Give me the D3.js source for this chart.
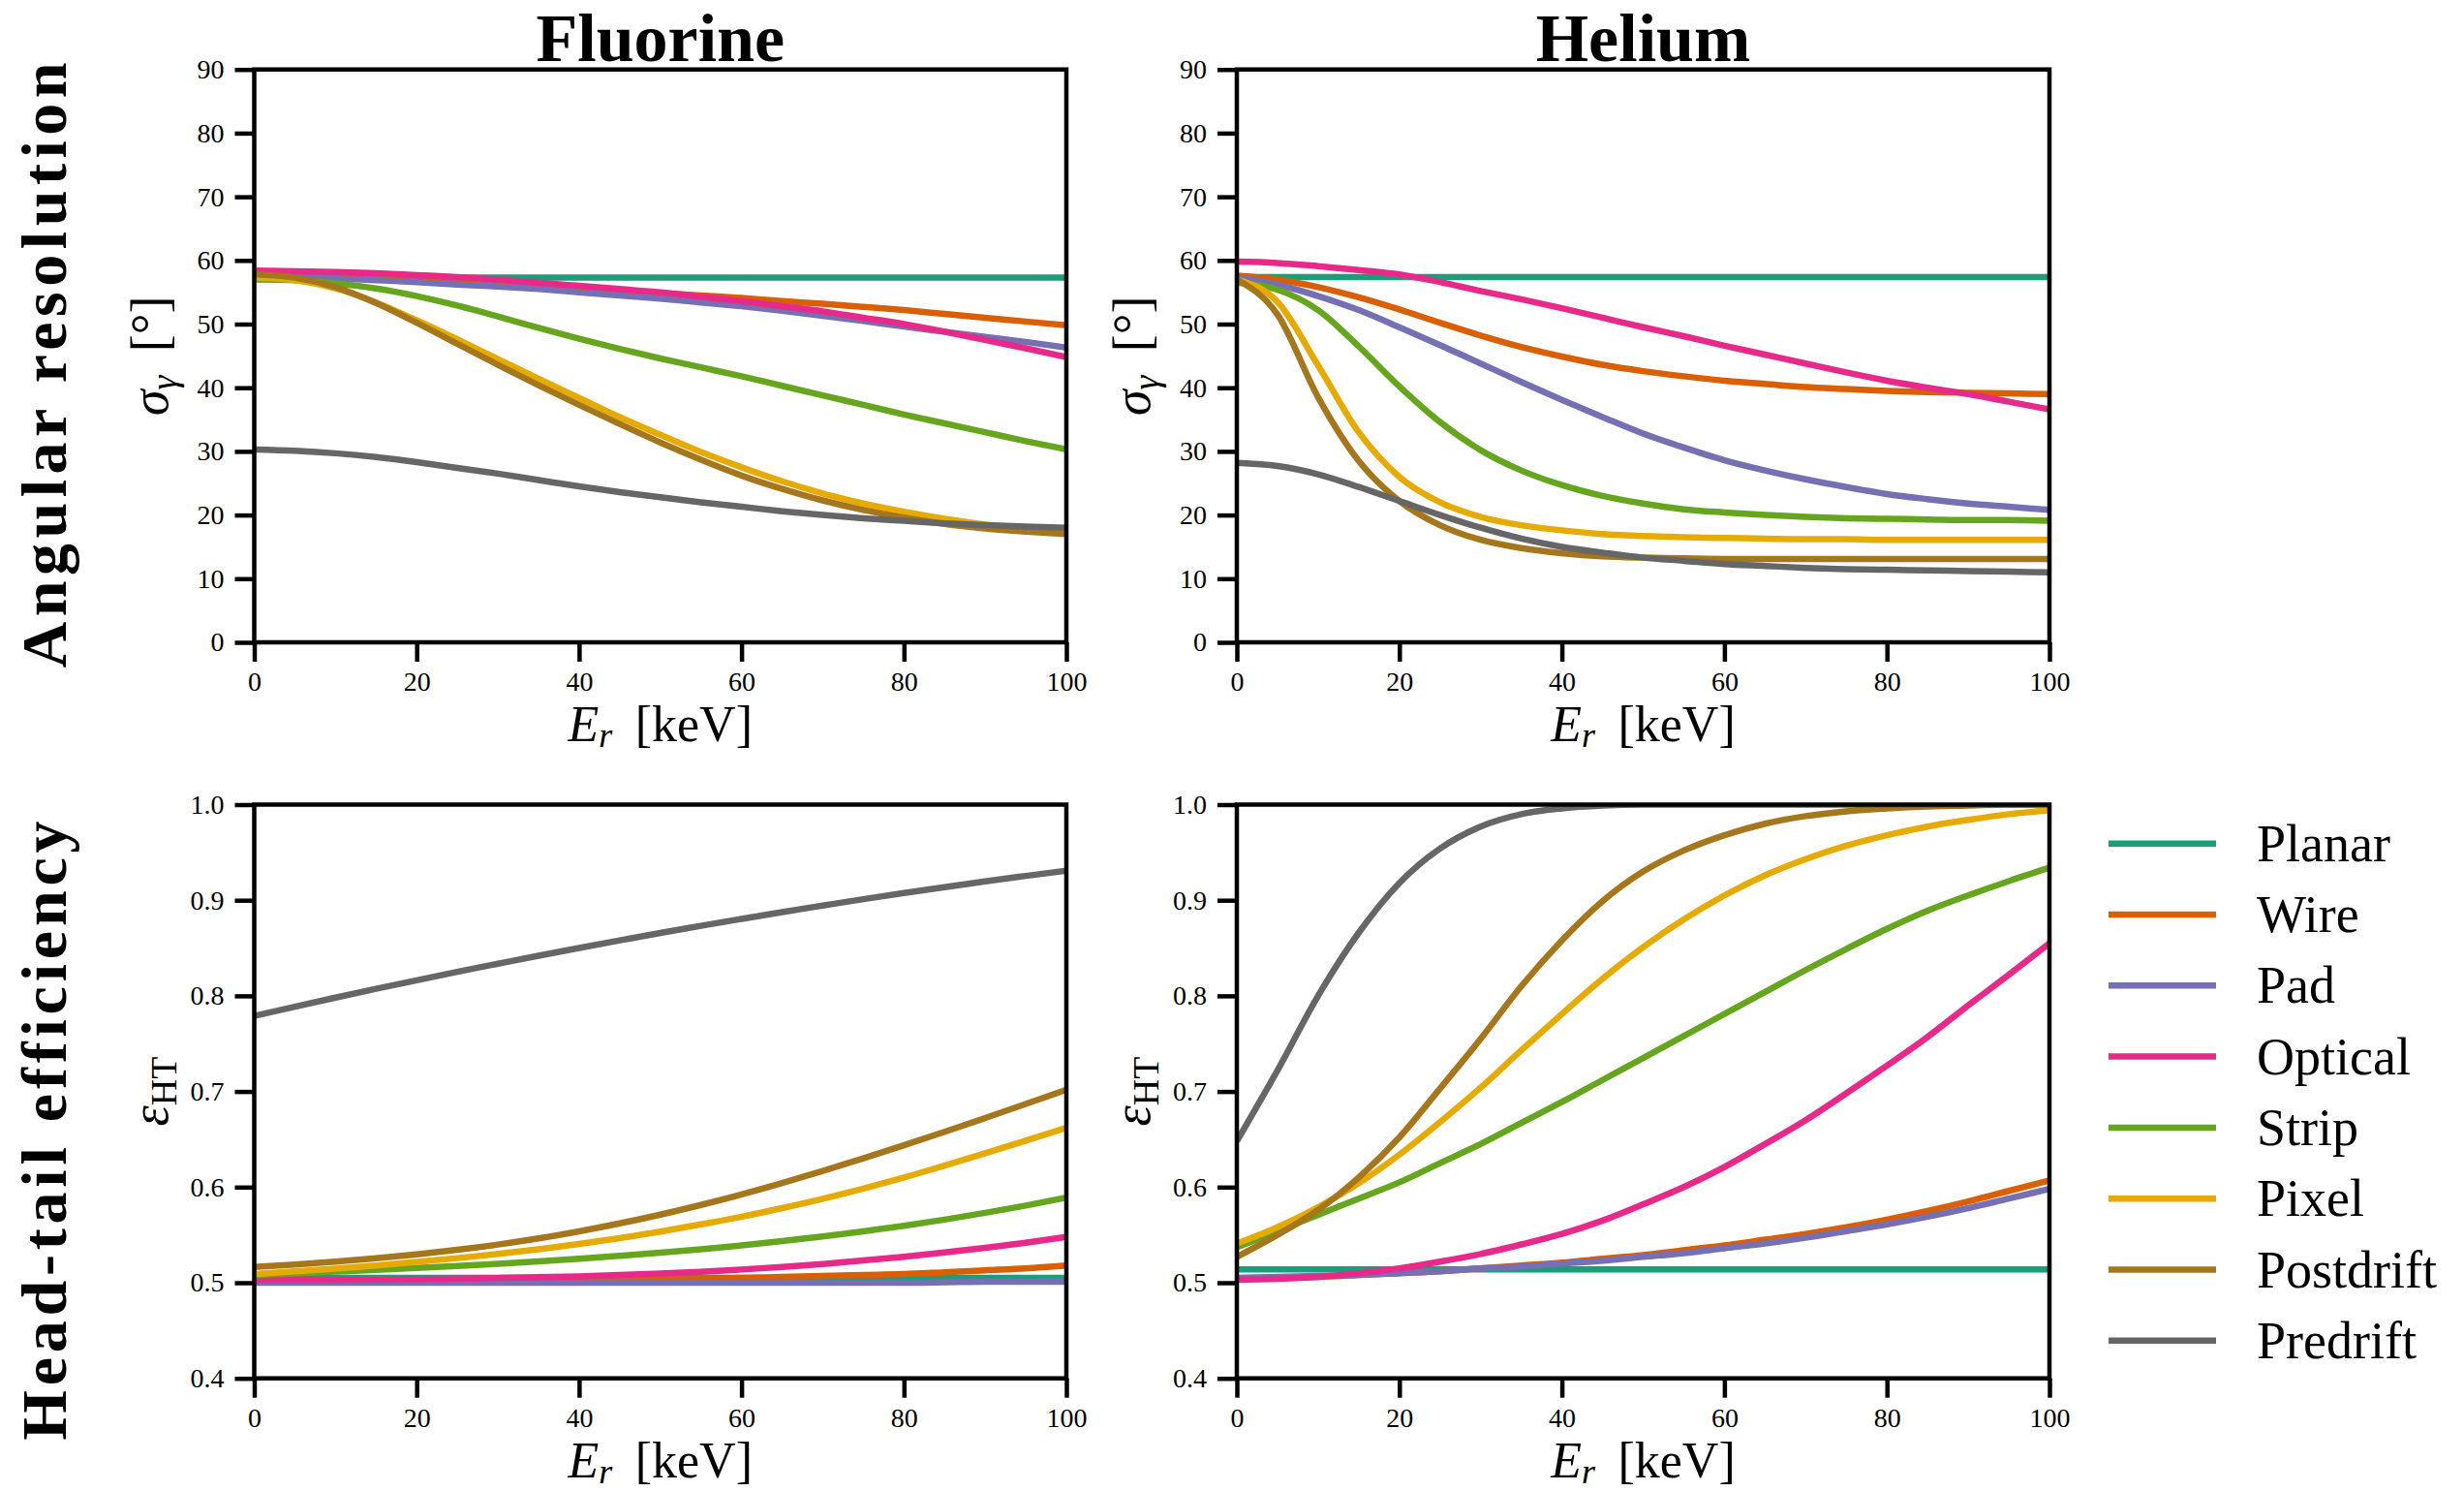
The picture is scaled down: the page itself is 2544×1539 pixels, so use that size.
<!DOCTYPE html>
<html>
<head>
<meta charset="utf-8">
<script src="https://cdn.jsdelivr.net/npm/d3@7"></script>
<style>
  html, body { margin: 0; padding: 0; background: #ffffff; }
  svg { display: block; }
</style>
</head>
<body>
<svg id="chart" width="2544" height="1539"></svg>
<script>
// ---------------- DATA ----------------
const energyKeV = [0,5,10,15,20,25,30,35,40,45,50,55,60,65,70,75,80,85,90,95,100];
const seriesNames = ["Planar","Wire","Pad","Optical","Strip","Pixel","Postdrift","Predrift"];
const seriesColors = ["#1b9e77","#d95f02","#7570b3","#e7298a","#66a61e","#e6ab02","#a6761d","#666666"];
const xTicks = [0,20,40,60,80,100];
const sigmaTicks = [0,10,20,30,40,50,60,70,80,90];
const effTicks = [0.4,0.5,0.6,0.7,0.8,0.9,1.0];
const columnTitles = ["Fluorine","Helium"];
const rowTitles = ["Angular resolution","Head-tail efficiency"];

// Angular resolution sigma_gamma [deg], Fluorine (order = seriesNames)
const fluorineSigma = [
  [57.3,57.3,57.3,57.3,57.3,57.3,57.3,57.3,57.3,57.3,57.3,57.3,57.3,57.3,57.3,57.3,57.3,57.3,57.3,57.3,57.3],
  [58.0,58.0,57.8,57.6,57.3,56.9,56.5,56.1,55.7,55.3,54.9,54.5,54.1,53.6,53.2,52.7,52.2,51.6,51.0,50.4,49.8],
  [57.8,57.5,57.2,56.9,56.6,56.2,55.9,55.5,55.0,54.5,54.0,53.4,52.8,52.1,51.3,50.5,49.6,48.8,48.0,47.2,46.3],
  [58.4,58.3,58.2,58.0,57.7,57.4,57.0,56.5,56.0,55.5,55.0,54.3,53.6,52.8,52.0,51.0,50.0,48.8,47.5,46.2,44.8],
  [57.0,56.9,56.4,55.6,54.4,52.9,51.2,49.4,47.7,46.1,44.6,43.2,41.8,40.3,38.8,37.3,35.8,34.4,33.0,31.6,30.3],
  [57.3,56.9,55.6,53.4,50.6,47.6,44.5,41.4,38.4,35.4,32.6,29.9,27.5,25.3,23.4,21.8,20.5,19.4,18.5,17.8,17.2],
  [57.8,57.3,55.8,53.3,50.2,46.9,43.6,40.4,37.3,34.3,31.4,28.7,26.2,24.1,22.3,20.8,19.6,18.6,17.9,17.4,17.0],
  [30.3,30.1,29.7,29.1,28.3,27.4,26.5,25.5,24.5,23.6,22.8,22.0,21.3,20.6,20.0,19.5,19.1,18.7,18.4,18.2,18.0]
];
// Angular resolution sigma_gamma [deg], Helium
const heliumSigma = [
  [57.4,57.4,57.4,57.4,57.4,57.4,57.4,57.4,57.4,57.4,57.4,57.4,57.4,57.4,57.4,57.4,57.4,57.4,57.4,57.4,57.4],
  [57.6,57.0,55.8,54.2,52.3,50.2,48.2,46.4,44.9,43.6,42.6,41.8,41.1,40.6,40.1,39.8,39.5,39.3,39.2,39.1,39.0],
  [57.3,56.2,54.4,52.2,49.5,46.7,43.8,40.9,38.1,35.4,32.8,30.6,28.6,27.0,25.6,24.4,23.3,22.5,21.8,21.3,20.8],
  [59.8,59.6,59.1,58.5,57.8,56.6,55.2,53.9,52.5,51.0,49.5,48.1,46.6,45.2,43.8,42.4,41.1,40.0,39.0,37.8,36.6],
  [56.5,55.4,52.2,46.5,40.2,34.6,30.2,27.0,24.7,23.0,21.8,20.9,20.4,20.0,19.7,19.5,19.4,19.3,19.2,19.2,19.1],
  [57.0,53.5,43.5,33.0,26.0,22.0,19.7,18.4,17.6,17.0,16.7,16.5,16.4,16.3,16.2,16.2,16.1,16.1,16.1,16.1,16.1],
  [57.0,51.5,38.5,28.5,22.2,18.4,16.1,14.8,14.0,13.5,13.3,13.2,13.1,13.1,13.1,13.1,13.1,13.1,13.1,13.1,13.1],
  [28.2,27.7,26.4,24.4,22.2,20.0,18.0,16.3,15.0,14.1,13.3,12.8,12.3,12.0,11.7,11.5,11.4,11.3,11.2,11.1,11.0]
];
// Head-tail efficiency, Fluorine
const fluorineEff = [
  [0.505,0.505,0.505,0.505,0.505,0.505,0.505,0.505,0.505,0.505,0.505,0.505,0.505,0.505,0.505,0.505,0.505,0.505,0.505,0.505,0.505],
  [0.501,0.501,0.501,0.5015,0.502,0.502,0.5025,0.503,0.503,0.5035,0.504,0.5045,0.505,0.506,0.507,0.508,0.509,0.511,0.513,0.515,0.518],
  [0.500,0.500,0.500,0.500,0.500,0.500,0.500,0.500,0.500,0.500,0.500,0.500,0.500,0.500,0.500,0.500,0.500,0.5005,0.501,0.501,0.501],
  [0.503,0.503,0.503,0.5033,0.5037,0.5042,0.5049,0.5057,0.5067,0.508,0.5096,0.5115,0.5138,0.5165,0.5196,0.5232,0.5272,0.5316,0.5364,0.5418,0.548],
  [0.508,0.5098,0.5116,0.5134,0.5154,0.5175,0.5198,0.5223,0.5250,0.5280,0.5313,0.5350,0.5390,0.5435,0.5483,0.5537,0.5596,0.5660,0.5731,0.5807,0.589],
  [0.509,0.5118,0.5148,0.5181,0.5217,0.5257,0.5301,0.5350,0.5405,0.5466,0.5534,0.5610,0.5690,0.5780,0.5878,0.5985,0.6100,0.6225,0.6353,0.6485,0.662],
  [0.5165,0.5191,0.5221,0.5256,0.5297,0.5344,0.5399,0.5463,0.5537,0.5620,0.5712,0.5813,0.5923,0.6042,0.6168,0.6300,0.6437,0.6578,0.6722,0.6869,0.7019],
  [0.779,0.7887,0.7981,0.8073,0.8163,0.8251,0.8336,0.8420,0.8501,0.8580,0.8658,0.8732,0.8805,0.8876,0.8944,0.9011,0.9075,0.9137,0.9197,0.9254,0.931]
];
// Head-tail efficiency, Helium
const heliumEff = [
  [0.514,0.514,0.514,0.514,0.514,0.514,0.514,0.514,0.514,0.514,0.514,0.514,0.514,0.514,0.514,0.514,0.514,0.514,0.514,0.514,0.514],
  [0.504,0.505,0.506,0.508,0.510,0.512,0.515,0.518,0.521,0.525,0.529,0.534,0.539,0.545,0.551,0.558,0.566,0.575,0.585,0.596,0.607],
  [0.505,0.506,0.507,0.508,0.510,0.512,0.515,0.517,0.520,0.523,0.527,0.531,0.536,0.541,0.547,0.554,0.561,0.569,0.578,0.588,0.598],
  [0.503,0.504,0.506,0.510,0.515,0.522,0.530,0.540,0.551,0.565,0.582,0.600,0.621,0.645,0.670,0.698,0.727,0.757,0.790,0.822,0.855],
  [0.537,0.554,0.571,0.588,0.605,0.625,0.645,0.667,0.689,0.712,0.735,0.758,0.781,0.804,0.827,0.849,0.870,0.889,0.905,0.920,0.934],
  [0.541,0.558,0.579,0.604,0.634,0.668,0.704,0.743,0.781,0.818,0.851,0.880,0.905,0.926,0.943,0.957,0.968,0.977,0.984,0.990,0.994],
  [0.527,0.550,0.576,0.610,0.652,0.703,0.755,0.810,0.858,0.899,0.930,0.952,0.968,0.980,0.988,0.993,0.996,0.998,0.999,1.000,1.000],
  [0.648,0.722,0.800,0.866,0.918,0.954,0.977,0.990,0.996,0.999,1.000,1.000,1.000,1.000,1.000,1.000,1.000,1.000,1.000,1.000,1.000]
];

// ---------------- LAYOUT ----------------
const FONT = '"Liberation Serif", "DejaVu Serif", "Times New Roman", serif';
const svg = d3.select("#chart");
const colX = [[262.5, 1101], [1277, 2116]];
const rowY = [[71.7, 663], [830.5, 1422.7]];
const panels = [
  {col:0,row:0,data:fluorineSigma,domain:[0,90],ticks:sigmaTicks,fmt:d3.format("d"),ylab:"sigma"},
  {col:1,row:0,data:heliumSigma,domain:[0,90],ticks:sigmaTicks,fmt:d3.format("d"),ylab:"sigma"},
  {col:0,row:1,data:fluorineEff,domain:[0.4,1.0],ticks:effTicks,fmt:d3.format(".1f"),ylab:"eff"},
  {col:1,row:1,data:heliumEff,domain:[0.4,1.0],ticks:effTicks,fmt:d3.format(".1f"),ylab:"eff"}
];

const defs = svg.append("defs");

function txt(sel) { return sel.style("font-family", FONT).attr("fill", "#000"); }

panels.forEach((p, i) => {
  const [x0, x1] = colX[p.col];
  const [y0, y1] = rowY[p.row];
  const x = d3.scaleLinear().domain([0, 100]).range([x0, x1]);
  const y = d3.scaleLinear().domain(p.domain).range([y1, y0]);

  defs.append("clipPath").attr("id", "clip" + i)
    .append("rect").attr("x", x0).attr("y", y0).attr("width", x1 - x0).attr("height", y1 - y0);

  const g = svg.append("g");
  const line = d3.line().x((d, k) => x(energyKeV[k])).y(d => y(d)).curve(d3.curveMonotoneX);
  g.append("g").attr("clip-path", "url(#clip" + i + ")")
    .selectAll("path").data(p.data).join("path")
    .attr("d", d => line(d))
    .attr("fill", "none")
    .attr("stroke", (d, k) => seriesColors[k])
    .attr("stroke-width", 6.5)
    .attr("stroke-linejoin", "round");

  // axes
  const xAxis = d3.axisBottom(x).tickValues(xTicks).tickSize(20).tickSizeOuter(0).tickPadding(10);
  const yAxis = d3.axisLeft(y).tickValues(p.ticks).tickFormat(p.fmt).tickSize(20).tickSizeOuter(0).tickPadding(11);
  const gx = g.append("g").attr("transform", `translate(0,${y1})`).call(xAxis);
  const gy = g.append("g").attr("transform", `translate(${x0},0)`).call(yAxis);
  [gx, gy].forEach(a => {
    a.attr("font-family", null).attr("font-size", null);
    a.select(".domain").remove();
    a.selectAll(".tick line").attr("stroke", "#000").attr("stroke-width", 4.5);
    txt(a.selectAll(".tick text")).style("font-size", "28px");
  });

  // frame (spines)
  g.append("rect").attr("x", x0).attr("y", y0).attr("width", x1 - x0).attr("height", y1 - y0)
    .attr("fill", "none").attr("stroke", "#000").attr("stroke-width", 4.5);

  // x label
  const xl = txt(g.append("text")).attr("x", (x0 + x1) / 2).attr("y", y1 + 102)
    .attr("text-anchor", "middle").style("font-size", "52px");
  xl.append("tspan").attr("font-style", "italic").text("E");
  xl.append("tspan").attr("font-style", "italic").style("font-size", "36px").attr("dy", 6).text("r");
  xl.append("tspan").attr("dy", -6).text("\u2009 [keV]");

  // y label
  const yl = txt(g.append("text"))
    .attr("transform", `translate(${x0 - 90},${(y0 + y1) / 2}) rotate(-90)`)
    .attr("text-anchor", "middle").style("font-size", "54px");
  if (p.ylab === "sigma") {
    yl.append("tspan").attr("font-style", "italic").text("\u03c3");
    yl.append("tspan").attr("font-style", "italic").style("font-size", "38px").attr("dy", 9).text("\u03b3");
    yl.append("tspan").attr("dy", -9).text("\u2009 [\u00b0]");
  } else {
    yl.append("tspan").attr("font-style", "italic").text("\u03b5");
    yl.append("tspan").style("font-size", "38px").attr("dy", 9).text("HT");
  }

  // column titles
  if (p.row === 0) {
    txt(svg.append("text")).attr("x", (x0 + x1) / 2).attr("y", 63)
      .attr("text-anchor", "middle").style("font-size", "70px").attr("font-weight", "bold")
      .text(columnTitles[p.col]);
  }
});

// row titles
const rowCenters = [377, 1167];
const rowLengths = [625, 639];
rowTitles.forEach((t, r) => {
  txt(svg.append("text"))
    .attr("transform", `translate(68,${rowCenters[r]}) rotate(-90)`)
    .attr("text-anchor", "middle").style("font-size", "66px").attr("font-weight", "bold")
    .attr("textLength", rowLengths[r]).attr("lengthAdjust", "spacing")
    .text(t);
});

// legend
const leg = svg.append("g");
seriesNames.forEach((name, k) => {
  const ly = 870.7 + 73.3 * k;
  leg.append("line").attr("x1", 2177).attr("x2", 2288).attr("y1", ly).attr("y2", ly)
    .attr("stroke", seriesColors[k]).attr("stroke-width", 6.5);
  txt(leg.append("text")).attr("x", 2330).attr("y", ly + 18).style("font-size", "54px").text(name);
});
</script>
</body>
</html>
